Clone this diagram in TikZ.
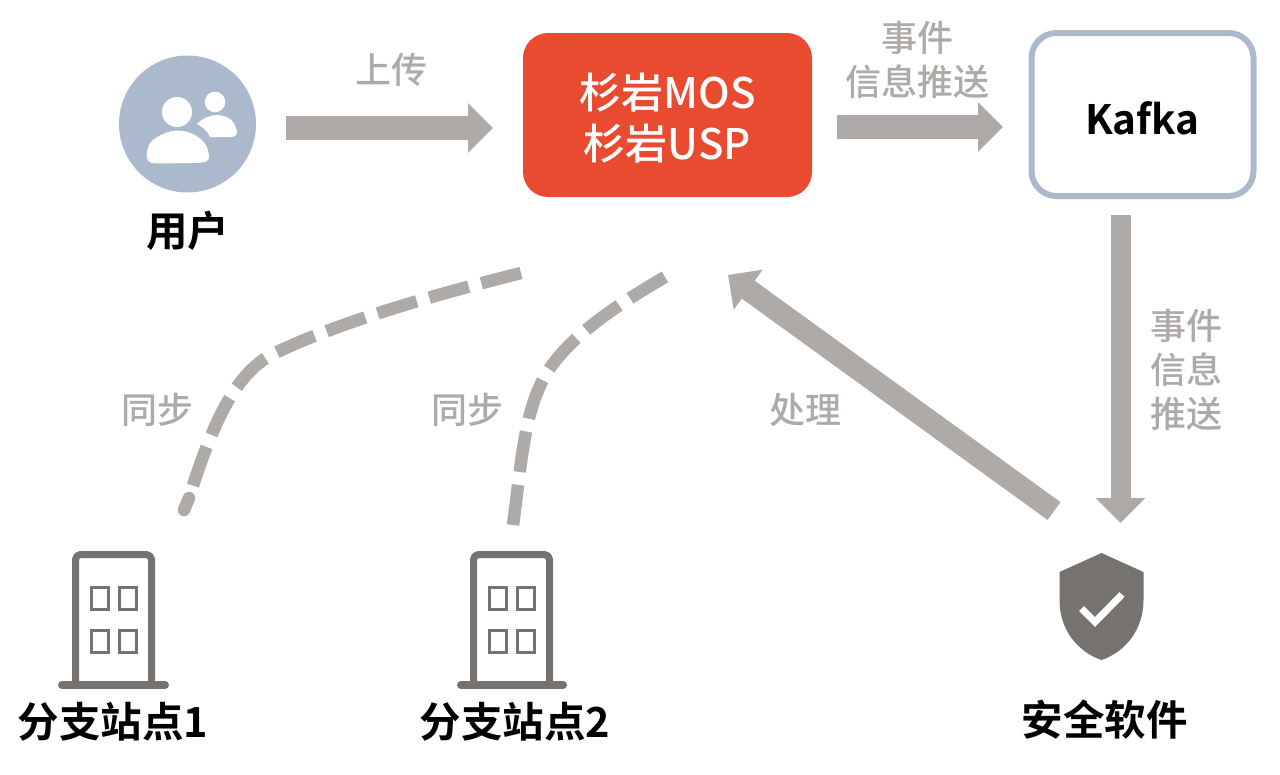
\documentclass[tikz,border=0pt]{standalone}
\usepackage{fontspec}
\setmainfont{Noto Sans CJK SC}[BoldFont={Noto Sans CJK SC Bold}]
\newfontfamily\medfont{Noto Sans CJK SC Medium}
\usetikzlibrary{arrows.meta}
\definecolor{arrowgray}{HTML}{AEAAA8}
\definecolor{icongray}{HTML}{767270}
\definecolor{steel}{HTML}{ABB9CC}
\definecolor{redbox}{HTML}{E94B30}
\tikzset{
  x=1pt,y=-1pt,
  graylabel/.style={text=arrowgray,font=\fontsize{36}{36}\selectfont\medfont,inner sep=0pt,align=center},
  blacklabel/.style={text=black,font=\fontsize{41.5}{41.5}\selectfont\bfseries,inner sep=0pt},
  blockarrow/.style={draw=arrowgray,line width=#1pt,-{Triangle[length=25pt,width=48pt]}},
  dashline/.style={draw=arrowgray,line width=12.5pt,dash pattern=on 41pt off 13pt},
  tailpiece/.style={draw=arrowgray,line width=12.5pt,line cap=round},
  buildline/.style={draw=icongray,line width=7pt,line join=round},
  winbox/.style={draw=icongray,line width=3.5pt,minimum width=17pt,minimum height=22pt,inner sep=0pt},
}
\begin{document}
\begin{tikzpicture}
\useasboundingbox (0,0) rectangle (1280,774);
% user
\node[circle,fill=steel,minimum size=137pt,inner sep=0pt] (user) at (187.5,124) {};
\fill[white] (177,112) circle (15);
\fill[white] (215,102) circle (10.3);
\fill[white] (147,152) .. controls (148,140) and (158,136) .. (168,132) .. controls (178,129) and (190,131) .. (198,137) .. controls (206,142) and (209,150) .. (209,158) .. controls (208,163) and (200,163) .. (190,163) .. controls (175,163) and (160,164) .. (152,163) .. controls (147,162) and (146,157) .. (147,152) -- cycle;
\fill[white] (197,124) .. controls (203,118) and (210,115) .. (218,115) .. controls (228,116) and (235,120) .. (237,132) .. controls (237,136) and (234,137) .. (230,137) -- (210,137) .. controls (208,131) and (202,127) .. (197,124) -- cycle;
\node[blacklabel] (userlabel) at (187.5,231) {用户};
% main boxes
\node[fill=redbox,rounded corners=25pt,minimum width=289pt,minimum height=164pt,inner sep=0pt] (usp) at (667.5,115) {};
\node[inner sep=0pt,text=white,align=center,font=\fontsize{42}{51}\selectfont\medfont] (usptext) at (667.5,118) {杉岩MOS\\杉岩USP};
\node[draw=steel,fill=white,line width=6pt,rounded corners=25pt,minimum width=222pt,minimum height=163pt,inner sep=0pt] (kafka) at (1142.5,114.5) {};
\node[inner sep=0pt,text=black,font=\fontsize{40.5}{41}\selectfont\bfseries] (kafkatext) at (1142.5,118.5) {Kafka};
% top arrows
\coordinate (a1s) at (286,128); \coordinate (a1e) at (493,128);
\coordinate (a2s) at (837,127); \coordinate (a2e) at (1003,127);
\coordinate (a3s) at (1120.5,215); \coordinate (a3e) at (1120.5,523);
\coordinate (a4s) at (1054,511); \coordinate (a4e) at (728,275);
\draw[blockarrow=24] (a1s) -- (a1e);
\draw[blockarrow=24] (a2s) -- (a2e);
\draw[blockarrow=20] (a3s) -- (a3e);
\draw[blockarrow=22] (a4s) -- (a4e);
\node[graylabel] (upload) at (391,70) {上传};
\node[graylabel] (push1) at (917,60) {事件\\[8pt]信息推送};
\node[graylabel] (push2) at (1186,370) {事件\\[8pt]信息\\[8pt]推送};
\node[graylabel] (proc) at (805,410) {处理};
\node[graylabel] (sync1) at (157,410) {同步};
\node[graylabel] (sync2) at (467,410) {同步};
% dashed curves
\coordinate (d1s) at (521,273); \coordinate (d1m) at (275,353); \coordinate (d1e) at (189,498); \coordinate (d1t) at (184,510);
\draw[dashline] (d1s) .. controls (430,296) and (340,322) .. (d1m) .. controls (235,372) and (212,425) .. (d1e);
\draw[tailpiece] (d1e) -- (d1t);
\coordinate (d2s) at (665,277); \coordinate (d2m) at (556,360); \coordinate (d2e) at (513,525);
\draw[dashline] (d2s) .. controls (620,303) and (580,330) .. (d2m) .. controls (525,398) and (523,450) .. (d2e);
% building 1
\draw[buildline,rounded corners=5pt] (75.5,684) -- (75.5,554.5) -- (151.5,554.5) -- (151.5,684);
\draw[draw=icongray,line width=8pt,line cap=round] (62,685) -- (165,685);
\node[winbox] (b1a) at (100,598.5) {};
\node[winbox] (b1b) at (128,598.5) {};
\node[winbox] (b1c) at (100,641.5) {};
\node[winbox] (b1d) at (128,641.5) {};
\node[blacklabel] (site1) at (113,722) {分支站点1};
% building 2
\draw[buildline,rounded corners=5pt] (473.5,684) -- (473.5,554.5) -- (549.5,554.5) -- (549.5,684);
\draw[draw=icongray,line width=8pt,line cap=round] (461,685) -- (563,685);
\node[winbox] (b2a) at (498,598.5) {};
\node[winbox] (b2b) at (526,598.5) {};
\node[winbox] (b2c) at (498,641.5) {};
\node[winbox] (b2d) at (526,641.5) {};
\node[blacklabel] (site2) at (515,722) {分支站点2};
% shield
\fill[icongray] (1101.5,553) -- (1143.5,572) -- (1143.5,600) .. controls (1143.5,630) and (1125,652) .. (1101.5,660) .. controls (1078,652) and (1059.5,630) .. (1059.5,600) -- (1059.5,572) -- cycle;
\draw[white,line width=7pt] (1081.5,608.5) -- (1095,622) -- (1122,594.5);
\node[blacklabel] (safe) at (1104.5,720) {安全软件};
\end{tikzpicture}
\end{document}
